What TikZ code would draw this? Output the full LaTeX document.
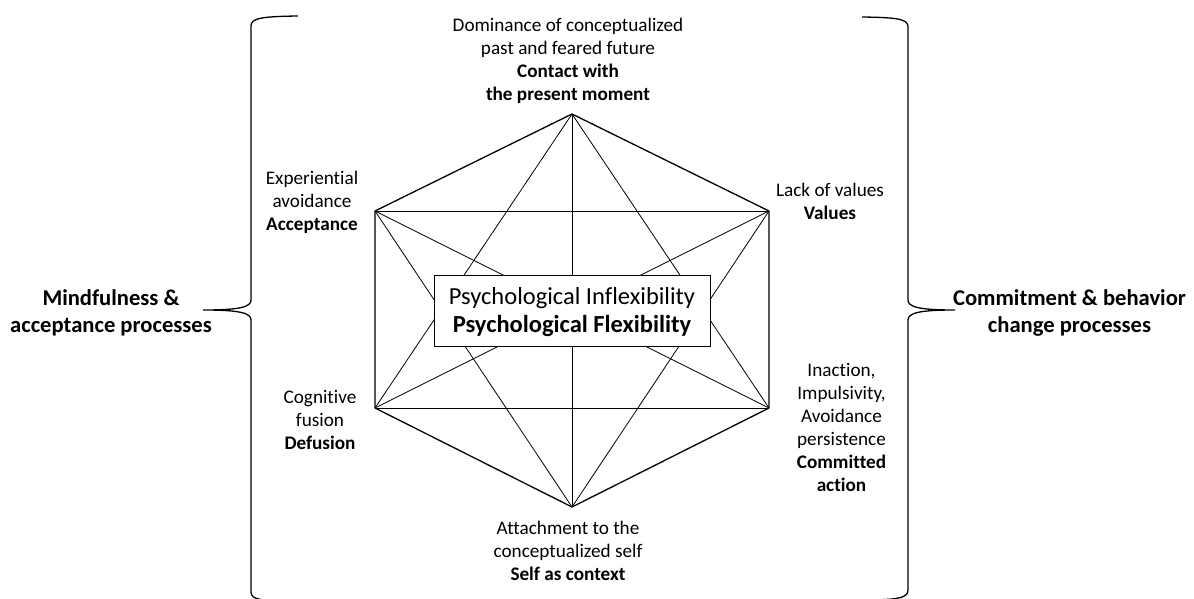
\documentclass[tikz,border=0pt]{standalone}
\usepackage{fontspec}
\setmainfont{Carlito}[Ligatures={NoCommon}]
\begin{document}
\begin{tikzpicture}[x=1pt,y=-1pt,
  lbl/.style={anchor=north,align=center,inner sep=0pt,font=\fontsize{19.2}{23}\selectfont},
  side/.style={anchor=north,align=center,inner sep=0pt,font=\fontsize{22.6}{27}\selectfont\bfseries},
  inner/.style={line width=0.8pt},
  outer/.style={line width=1.3pt,line join=miter},
  brace/.style={line width=1.3pt}]
\useasboundingbox (0,0) rectangle (1194,599);
\fill[white] (0,0) rectangle (1194,599);
% vertices
\coordinate (T) at (572,114);
\coordinate (UL) at (375,211);
\coordinate (UR) at (769,211);
\coordinate (LL) at (375,408);
\coordinate (LR) at (769,408);
\coordinate (B) at (572,507);
% inner connections
\draw[inner] (T) -- (B);
\draw[inner] (T) -- (LL);
\draw[inner] (T) -- (LR);
\draw[inner] (UL) -- (UR);
\draw[inner] (UL) -- (LR);
\draw[inner] (UL) -- (B);
\draw[inner] (UR) -- (LL);
\draw[inner] (UR) -- (B);
\draw[inner] (LL) -- (LR);
% outer hexagon
\draw[outer] (T) -- (UR) -- (LR) -- (B) -- (LL) -- (UL) -- cycle;
% centre box
\node[draw,line width=0.9pt,fill=white,minimum width=276,minimum height=71,inner sep=0pt,align=center,
  font=\fontsize{24.5}{28}\selectfont] (box) at (572,310.5)
  {\rule{0pt}{21pt}Psychological Inflexibility\\\textbf{Psychological Flexibility}\rule[-4pt]{0pt}{4pt}};
% labels
\node[lbl] (tlab) at (568,15.6) {\strut Dominance of conceptualized\\past and feared future\\\textbf{Contact with}\\\textbf{the present moment}};
\node[lbl] (ullab) at (312,168.2) {\strut Experiential\\avoidance\\\textbf{Acceptance}};
\node[lbl] (urlab) at (830,180.6) {\strut Lack of values\\\textbf{Values}};
\node[lbl] (lllab) at (320,387.2) {\strut Cognitive\\fusion\\\textbf{Defusion}};
\node[lbl] (lrlab) at (841.5,360.6) {\strut Inaction,\\Impulsivity,\\Avoidance\\persistence\\\textbf{Committed}\\\textbf{action}};
\node[lbl] (blab) at (568,518.2) {\strut Attachment to the\\conceptualized self\\\textbf{Self as context}};
\node[side] (left) at (111,286.1) {\strut Mindfulness \&\\acceptance processes};
\node[side] (right) at (1069.5,286.1) {\strut Commitment \& behavior\\change processes};
% braces
\draw[brace] (298,16) .. controls (262,16.5) and (251,18) .. (251,26) -- (251,300)
  .. controls (251,307) and (240,310) .. (203,310)
  .. controls (240,310) and (251,313) .. (251,320) -- (251,592)
  .. controls (251,600) and (262,601) .. (298,601);
\draw[brace] (862,17) .. controls (898,17.5) and (908,19) .. (908,27) -- (908,300)
  .. controls (908,307) and (919,310) .. (955,310)
  .. controls (919,310) and (908,313) .. (908,320) -- (908,590)
  .. controls (908,598) and (898,600) .. (862,600);
\end{tikzpicture}
\end{document}
